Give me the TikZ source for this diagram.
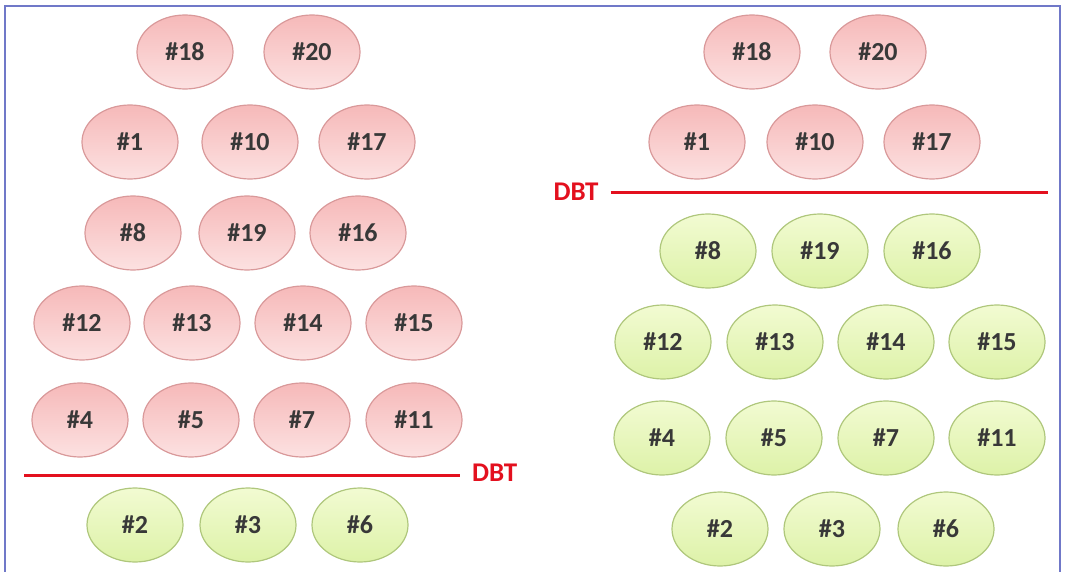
\documentclass[tikz,border=0pt]{standalone}
\usepackage{fontspec}
\setmainfont{Carlito}
\usepackage{xcolor}
\usepackage{tikz}
\usetikzlibrary{positioning,shapes.geometric}

\definecolor{pinktop}{HTML}{F6B9B9}
\definecolor{pinkbottom}{HTML}{FCE1E1}
\definecolor{pinkline}{HTML}{D9999A}
\definecolor{greentop}{HTML}{F2FBD2}
\definecolor{greenbottom}{HTML}{DDF2A8}
\definecolor{greenline}{HTML}{AFC77C}
\definecolor{dbtred}{HTML}{E3101E}
\definecolor{framecol}{HTML}{7078C8}

\begin{document}
\begin{tikzpicture}[
    x=1pt, y=-1pt,
    ball/.style={ellipse, draw=#1line, line width=1.2pt, top color=#1top, bottom color=#1bottom,
      minimum width=96pt, minimum height=74pt, inner sep=0pt,
      font=\fontsize{26}{28}\selectfont\bfseries, text=black!78},
    ball/.default=pink,
    cut/.style={draw=dbtred, line width=3pt},
    cutlabel/.style={font=\fontsize{27}{29}\selectfont\bfseries, text=dbtred, inner sep=2pt},
  ]
  \useasboundingbox (0,0) rectangle (1065,572);
  % Frame
  \draw[framecol, line width=2pt] (5,572) -- (5,6) -- (1060,6) -- (1060,572);

  % Left column: cut below the fifth row
  \node[ball] (l18) at (185,52)  {\#18};
  \node[ball] (l20) at (312,52)  {\#20};

  \node[ball] (l1)  at (130,142) {\#1};
  \node[ball] (l10) at (250,142) {\#10};
  \node[ball] (l17) at (367,142) {\#17};

  \node[ball] (l8)  at (133,233) {\#8};
  \node[ball] (l19) at (247,233) {\#19};
  \node[ball] (l16) at (358,233) {\#16};

  \node[ball] (l12) at (82,323)  {\#12};
  \node[ball] (l13) at (192,323) {\#13};
  \node[ball] (l14) at (303,323) {\#14};
  \node[ball] (l15) at (414,323) {\#15};

  \node[ball] (l4)  at (80,420)  {\#4};
  \node[ball] (l5)  at (191,420) {\#5};
  \node[ball] (l7)  at (302,420) {\#7};
  \node[ball] (l11) at (414,420) {\#11};

  \node[cutlabel, anchor=west] (ldbt) at (470,473) {DBT};
  \coordinate (lcut) at (24,475);
  \draw[cut] (lcut) -- ([xshift=-10pt]ldbt.west |- lcut);

  \node[ball=green] (l2) at (135,525) {\#2};
  \node[ball=green] (l3) at (248,525) {\#3};
  \node[ball=green] (l6) at (360,525) {\#6};

  % Right column: cut below the second row
  \node[ball] (r18) at (752,52)  {\#18};
  \node[ball] (r20) at (878,52)  {\#20};

  \node[ball] (r1)  at (697,142) {\#1};
  \node[ball] (r10) at (815,142) {\#10};
  \node[ball] (r17) at (932,142) {\#17};

  \node[cutlabel] (rdbt) at (576,192) {DBT};
  \coordinate (rcut) at (1048,193);
  \draw[cut] ([xshift=10pt]rdbt.east |- rcut) -- (rcut);

  \node[ball=green] (r8)  at (708,251) {\#8};
  \node[ball=green] (r19) at (820,251) {\#19};
  \node[ball=green] (r16) at (932,251) {\#16};

  \node[ball=green] (r12) at (663,342) {\#12};
  \node[ball=green] (r13) at (775,342) {\#13};
  \node[ball=green] (r14) at (886,342) {\#14};
  \node[ball=green] (r15) at (997,342) {\#15};

  \node[ball=green] (r4)  at (662,438) {\#4};
  \node[ball=green] (r5)  at (774,438) {\#5};
  \node[ball=green] (r7)  at (886,438) {\#7};
  \node[ball=green] (r11) at (997,438) {\#11};

  \node[ball=green] (r2) at (720,529) {\#2};
  \node[ball=green] (r3) at (832,529) {\#3};
  \node[ball=green] (r6) at (946,529) {\#6};
\end{tikzpicture}
\end{document}
